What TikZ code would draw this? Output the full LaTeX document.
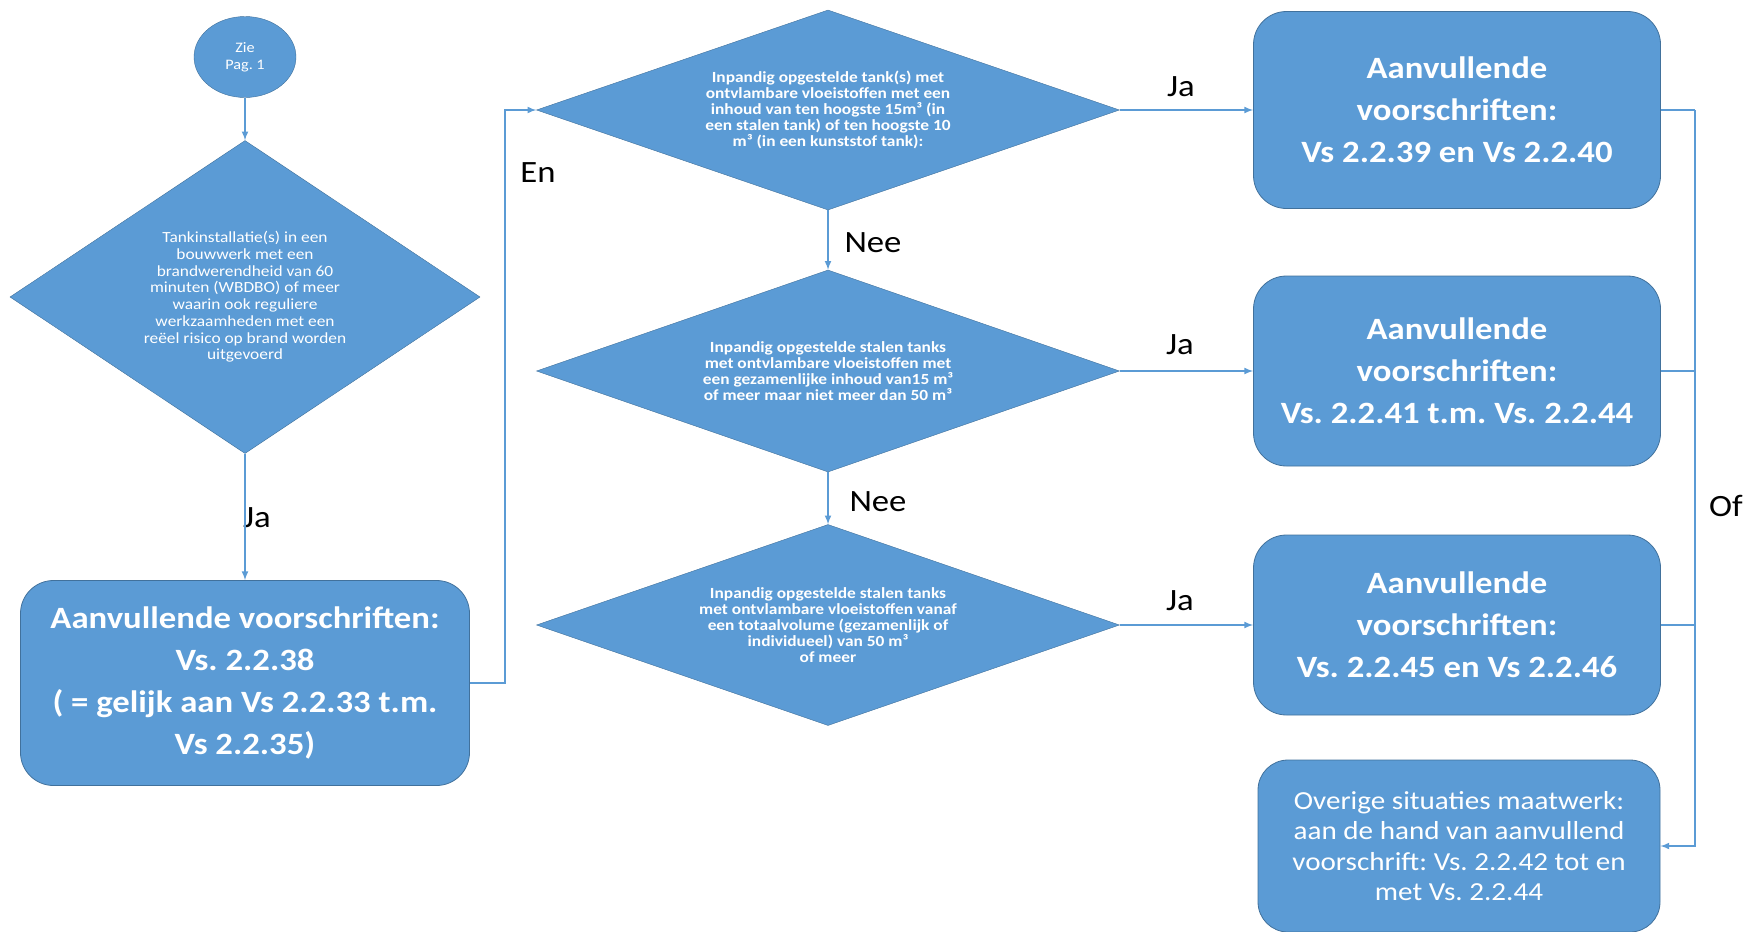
\documentclass[tikz,border=0pt]{standalone}
\usepackage{fontspec}
\setmainfont{Carlito}[FakeStretch=1.12]
\usetikzlibrary{positioning, shapes}

\definecolor{vsblue}{HTML}{5B9BD5}
\definecolor{vsedge}{HTML}{41719C}

\frenchspacing

\begin{document}
\begin{tikzpicture}[x=1bp, y=-1bp]

\useasboundingbox (0,0) rectangle (1744,931);

\tikzstyle{gdia1}=[draw=vsedge, fill=vsblue, shape=diamond, inner sep=0pt,
text=white, align=center, font=\fontsize{15.5bp}{16.7bp}\selectfont];
\tikzstyle{gdia2}=[draw=vsedge, fill=vsblue, shape=diamond, inner sep=0pt, shape aspect=2.9,
text=white, align=center, font=\fontsize{15.5bp}{16bp}\selectfont\bfseries];
\tikzstyle{gbox1}=[draw=vsedge, thick, fill=vsblue, shape=rectangle, rounded corners=33bp,
text=white, align=center, font=\fontsize{31bp}{42bp}\selectfont\bfseries];
\tikzstyle{gbox2}=[draw=vsedge, thick, fill=vsblue, shape=rectangle, rounded corners=30bp,
text=white, align=center, font=\fontsize{26bp}{30.6bp}\selectfont];
\tikzstyle{glab}=[font=\fontsize{31bp}{33bp}\selectfont];
\tikzstyle{gline}=[draw=vsblue, line width=2bp];

\node[draw=vsedge, fill=vsblue, shape=ellipse, minimum width=102bp, minimum height=81bp, inner sep=0pt,
text=white, align=center, font=\fontsize{14.5bp}{17bp}\selectfont] (zie) at (245,57) {Zie\\Pag. 1};

\node[gdia1, shape aspect=1.5, minimum width=470bp, minimum height=313bp] (dia1) at (245,297) {Tankinstallatie(s) in een\\ bouwwerk met een\\ brandwerendheid van 60\\ minuten (WBDBO) of meer\\ waarin ook reguliere\\ werkzaamheden met een\\ reëel risico op brand worden\\ uitgevoerd};
\node[gbox1, minimum width=449bp, minimum height=205bp] (res0) at (245,683) {Aanvullende voorschriften:\\ Vs. 2.2.38\\ ( = gelijk aan Vs 2.2.33 t.m.\\ Vs 2.2.35)};

\node[gdia2, minimum width=583bp, minimum height=200bp] (dia2) at (828,110) {Inpandig opgestelde tank(s) met\\ ontvlambare vloeistoffen met een\\ inhoud van ten hoogste 15m³ (in\\ een stalen tank) of ten hoogste 10\\ m³ (in een kunststof tank):};
\node[gdia2, minimum width=583bp, minimum height=202bp] (dia3) at (828,371) {Inpandig opgestelde stalen tanks\\ met ontvlambare vloeistoffen met\\ een gezamenlijke inhoud van15 m³\\ of meer maar niet meer dan 50 m³};
\node[gdia2, minimum width=583bp, minimum height=201bp] (dia4) at (828,625) {Inpandig opgestelde stalen tanks\\ met ontvlambare vloeistoffen vanaf\\ een totaalvolume (gezamenlijk of\\ individueel) van 50 m³\\ of meer};

\node[gbox1, minimum width=407bp, minimum height=197bp] (res1) at (1457,110) {Aanvullende\\ voorschriften:\\ Vs 2.2.39 en Vs 2.2.40};
\node[gbox1, minimum width=407bp, minimum height=190bp] (res2) at (1457,371) {Aanvullende\\ voorschriften:\\ Vs. 2.2.41 t.m. Vs. 2.2.44};
\node[gbox1, minimum width=407bp, minimum height=180bp] (res3) at (1457,625) {Aanvullende\\ voorschriften:\\ Vs. 2.2.45 en Vs 2.2.46};
\node[gbox2, minimum width=402bp, minimum height=172bp] (res4) at (1459,846) {Overige situaties maatwerk:\\ aan de hand van aanvullend\\ voorschrift: Vs. 2.2.42 tot en\\ met Vs. 2.2.44};

\node[glab] (ja0) at (257,518) {Ja};
\node[glab] (en) at (538,173) {En};
\node[glab] (nee1) at (873,243) {Nee};
\node[glab] (nee2) at (878,502) {Nee};
\node[glab] (ja1) at (1181,87) {Ja};
\node[glab] (ja2) at (1180,345) {Ja};
\node[glab] (ja3) at (1180,601) {Ja};
\node[glab] (of) at (1726,506) {Of};

\coordinate (enbend) at (505,110);
\coordinate (oftop) at (1695,110);
\coordinate (ofbot) at (1695,846);

% lines
\draw [-latex, gline] (zie) -- (dia1.north);
\draw [-latex, gline] (dia1.south) -- (res0.north);
\draw [-latex, gline] (res0.east) -| (enbend) -- (dia2.west);
\draw [-latex, gline] (dia2.south) -- (dia3.north);
\draw [-latex, gline] (dia3.south) -- (dia4.north);
\draw [-latex, gline] (dia2.east) -- (res1.west);
\draw [-latex, gline] (dia3.east) -- (res2.west);
\draw [-latex, gline] (dia4.east) -- (res3.west);
\draw [gline] (res1.east) -- (oftop);
\draw [gline] (res2.east) -- (res2.east -| oftop);
\draw [gline] (res3.east) -- (res3.east -| oftop);
\draw [-latex, gline] (oftop) -- (ofbot) -- (res4.east);

\end{tikzpicture}
\end{document}
